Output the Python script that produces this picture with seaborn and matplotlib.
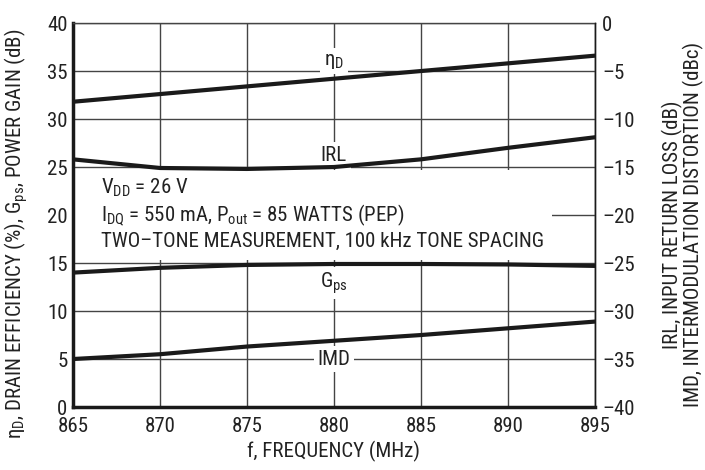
import numpy as np
import pandas as pd
import matplotlib
matplotlib.use("Agg")
import matplotlib.pyplot as plt
import seaborn as sns

# values
freq = [865, 870, 875, 880, 885, 890, 895]
eta_d = [31.8, 32.6, 33.4, 34.2, 35.0, 35.8, 36.6]      # %, left axis
gps = [14.0, 14.5, 14.8, 14.9, 14.9, 14.85, 14.7]       # dB, left axis
irl = [-14.2, -15.1, -15.2, -15.0, -14.2, -13.0, -11.9]  # dB, right axis
imd = [-35.0, -34.5, -33.7, -33.1, -32.5, -31.8, -31.1]  # dBc, right axis

x_ticks = [865, 870, 875, 880, 885, 890, 895]
left_ticks = [0, 5, 10, 15, 20, 25, 30, 35, 40]
right_ticks = [-40, -35, -30, -25, -20, -15, -10, -5, 0]

sns.set_style("white")
font = 'Roboto Condensed'
plt.rcParams['font.family'] = [font, 'DejaVu Sans']
plt.rcParams['mathtext.fontset'] = 'custom'
plt.rcParams['mathtext.rm'] = font
plt.rcParams['mathtext.it'] = font
plt.rcParams['text.color'] = '#222222'

ink = '#1a1a1a'
grid_c = '#444444'
fs = 15

df_left = pd.DataFrame({'f': freq, 'eta': eta_d, 'gps': gps})
df_right = pd.DataFrame({'f': freq, 'irl': irl, 'imd': imd})

fig = plt.figure(figsize=(7.05, 4.70), dpi=100)
ax = fig.add_axes([0.1035, 0.134, 0.7405, 0.817])
ax2 = ax.twinx()

# curves
sns.lineplot(data=df_left, x='f', y='eta', ax=ax, color=ink, linewidth=3, zorder=5)
sns.lineplot(data=df_left, x='f', y='gps', ax=ax, color=ink, linewidth=3, zorder=5)
sns.lineplot(data=df_right, x='f', y='irl', ax=ax2, color=ink, linewidth=3, zorder=5)
sns.lineplot(data=df_right, x='f', y='imd', ax=ax2, color=ink, linewidth=3, zorder=5)

ax.set_xlim(865, 895)
ax.set_ylim(0, 40)
ax2.set_ylim(-40, 0)
ax.set_xticks(x_ticks)
ax.set_yticks(left_ticks)
ax2.set_yticks(right_ticks)

ax.grid(True, color=grid_c, linewidth=1.0)
ax.set_axisbelow(True)

# white panel behind the conditions text
ax.axhspan(15.35, 24.65, xmin=0, xmax=0.917, color='white', zorder=1.5, lw=0)

lab_box = dict(facecolor='white', edgecolor='none', pad=2.5)
ax.text(880, 36.0, r'$\mathregular{\eta_D}$', ha='center', va='center', fontsize=fs, bbox=lab_box, zorder=4)
ax.text(880, 26.2, 'IRL', ha='center', va='center', fontsize=fs, bbox=lab_box, zorder=4)
ax.text(880, 12.9, r'$\mathregular{G_{ps}}$', ha='center', va='center', fontsize=fs, bbox=lab_box, zorder=4)
ax.text(880, 5.0, 'IMD', ha='center', va='center', fontsize=fs, bbox=lab_box, zorder=4)

ax.text(866.6, 22.8, r'$\mathregular{V_{DD}}$ = 26 V', fontsize=fs, va='center', zorder=4)
ax.text(866.6, 20.0, r'$\mathregular{I_{DQ}}$ = 550 mA, $\mathregular{P_{out}}$ = 85 WATTS (PEP)',
        fontsize=fs, va='center', zorder=4)
ax.text(866.6, 17.3, 'TWO\u2013TONE MEASUREMENT, 100 kHz TONE SPACING', fontsize=fs, va='center', zorder=4)

ax.set_xlabel('f, FREQUENCY (MHz)', fontsize=fs, color='#222222', labelpad=4)
ax.set_ylabel(r'$\mathregular{\eta_D}$, DRAIN EFFICIENCY (%), $\mathregular{G_{ps}}$, POWER GAIN (dB)',
              fontsize=fs, color='#222222')
ax.yaxis.set_label_coords(-0.083, 0.45)
ax2.set_ylabel('IRL, INPUT RETURN LOSS (dB)\nIMD, INTERMODULATION DISTORTION (dBc)',
               fontsize=fs, color='#222222', linespacing=1.0)
ax2.yaxis.set_label_coords(1.128, 0.475)

ax.tick_params(axis='x', labelsize=fs, colors='#222222', length=0, pad=7)
ax.tick_params(axis='y', labelsize=fs, colors='#222222', length=0, pad=4)
ax2.tick_params(axis='y', labelsize=fs, colors='#222222', length=0, pad=5)
ax2.set_yticklabels(['\u2013' + str(abs(t)) if t < 0 else str(t) for t in right_ticks])

for side in ['left', 'bottom']:
    ax.spines[side].set_linewidth(2.5)
    ax.spines[side].set_color(ink)
for side in ['top', 'right']:
    ax.spines[side].set_linewidth(1.0)
    ax.spines[side].set_color(grid_c)
for side in ax2.spines:
    ax2.spines[side].set_visible(False)
ax2.spines['right'].set_visible(True)
ax2.spines['right'].set_linewidth(1.0)
ax2.spines['right'].set_color(ink)

fig.savefig('out.png', dpi=100)
